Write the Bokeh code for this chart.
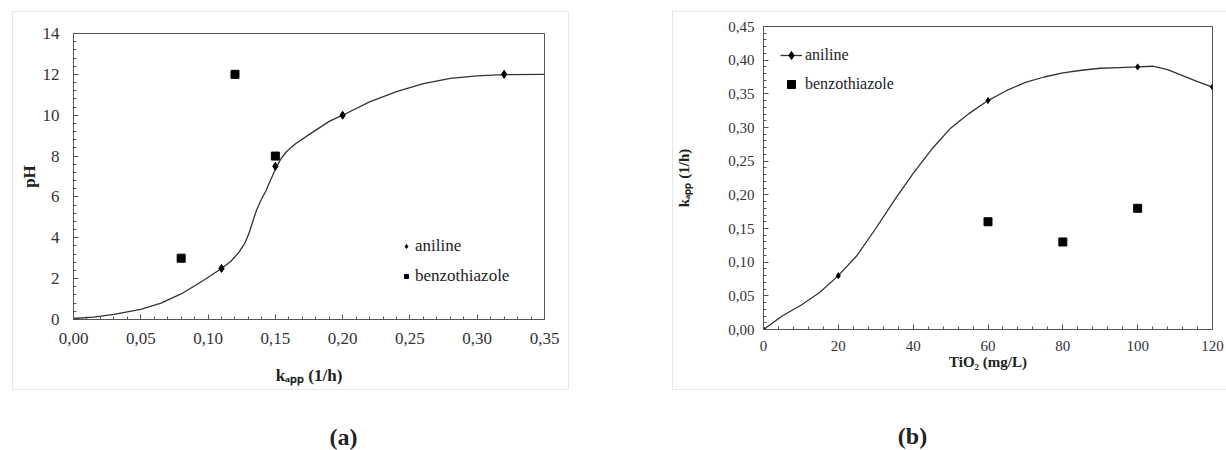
from bokeh.plotting import figure
from bokeh.models import (Range1d, FixedTicker, CustomJSTickFormatter, Label, Legend,
                          LegendItem, Spacer)
from bokeh.layouts import row, column
from bokeh.embed import file_html
from bokeh.resources import INLINE
import numpy as np

# ---------------- data: chart (a) ----------------
a_aniline_kapp = [0.11, 0.15, 0.20, 0.32]
a_aniline_ph = [2.5, 7.5, 10.0, 12.0]
a_benzo_kapp = [0.08, 0.12, 0.15]
a_benzo_ph = [3.0, 12.0, 8.0]
# fitted curve
a_curve_kapp = [0, 0.015, 0.03, 0.05, 0.065, 0.08, 0.095, 0.11, 0.117, 0.123, 0.127, 0.130,
                0.133, 0.136, 0.139, 0.143, 0.146, 0.15, 0.154, 0.158, 0.165, 0.175, 0.19,
                0.20, 0.22, 0.24, 0.26, 0.28, 0.30, 0.32, 0.35]
a_curve_ph = [0.05, 0.12, 0.25, 0.5, 0.8, 1.25, 1.85, 2.5, 2.85, 3.3, 3.7, 4.15,
              4.75, 5.35, 5.8, 6.3, 6.75, 7.35, 7.85, 8.2, 8.6, 9.05, 9.7,
              10.0, 10.65, 11.15, 11.55, 11.8, 11.93, 11.99, 12.0]
a_x_ticks = [0, 0.05, 0.10, 0.15, 0.20, 0.25, 0.30, 0.35]
a_y_ticks = [0, 2, 4, 6, 8, 10, 12, 14]

# ---------------- data: chart (b) ----------------
b_aniline_tio2 = [0, 20, 60, 100, 120]
b_aniline_kapp = [0.0, 0.08, 0.34, 0.39, 0.36]
b_benzo_tio2 = [60, 80, 100]
b_benzo_kapp = [0.16, 0.13, 0.18]
b_curve_tio2 = [0, 5, 10, 15, 20, 25, 30, 35, 40, 45, 50, 55, 60, 65, 70, 75, 80, 85,
                90, 95, 100, 104, 108, 112, 116, 120]
b_curve_kapp = [0.0, 0.02, 0.036, 0.055, 0.08, 0.11, 0.15, 0.192, 0.232, 0.268, 0.299,
                0.321, 0.34, 0.355, 0.367, 0.375, 0.381, 0.385, 0.388, 0.389, 0.39,
                0.391, 0.386, 0.377, 0.368, 0.36]
b_x_ticks = [0, 20, 40, 60, 80, 100, 120]
b_y_ticks = [0, 0.05, 0.10, 0.15, 0.20, 0.25, 0.30, 0.35, 0.40, 0.45]

captions = ["(a)", "(b)"]

FONT = "Liberation Serif"
AX = "#555555"
TXT = "#222222"


def comma2():
    return CustomJSTickFormatter(code="return tick.toFixed(2).replace('.', ',');")


def style_axes(p, size):
    for ax in (p.xaxis[0], p.yaxis[0]):
        ax.axis_line_color = AX
        ax.major_tick_line_color = AX
        ax.minor_tick_line_color = AX
        ax.major_tick_in = 5
        ax.major_tick_out = 0
        ax.minor_tick_in = 3
        ax.minor_tick_out = 0
        ax.major_label_text_font = FONT
        ax.major_label_text_font_size = size
        ax.major_label_text_color = "#333333"
        ax.axis_label_text_font = FONT
        ax.axis_label_text_font_style = "bold"
        ax.axis_label_text_color = TXT
    p.xgrid.visible = False
    p.ygrid.visible = False
    p.outline_line_color = AX
    p.outline_line_width = 1
    p.background_fill_color = "white"
    p.border_fill_color = "white"


# ================= figure (a) =================
pa = figure(width=557, height=379, output_backend="svg", toolbar_location=None, title=None,
            x_range=Range1d(0, 0.35), y_range=Range1d(0, 14), frame_align=False,
            min_border_left=60, min_border_right=26, min_border_top=21, min_border_bottom=72)
pa.styles = {"border": "1px solid #e6e6e6", "box-sizing": "border-box"}
style_axes(pa, "17px")
pa.xaxis[0].ticker = FixedTicker(ticks=a_x_ticks, minor_ticks=list(np.arange(0, 0.3501, 0.01)))
pa.yaxis[0].ticker = FixedTicker(ticks=a_y_ticks, minor_ticks=list(np.arange(0, 14.01, 0.4)))
pa.xaxis[0].formatter = comma2()
pa.xaxis[0].major_label_standoff = 13
pa.yaxis[0].major_label_standoff = 14
pa.xaxis[0].axis_label = "k\u2090\u209a\u209a (1/h)"
pa.xaxis[0].axis_label_text_font_size = "17px"
pa.xaxis[0].axis_label_standoff = 19
pa.yaxis[0].axis_label = "pH"
pa.yaxis[0].axis_label_text_font_size = "17px"
pa.yaxis[0].axis_label_standoff = 1

pa.line(a_curve_kapp, a_curve_ph, line_color="#333333", line_width=1.3)
ra1 = pa.scatter(a_aniline_kapp, a_aniline_ph, marker="diamond", size=8, color="black")
ra2 = pa.scatter(a_benzo_kapp, a_benzo_ph, marker="square", size=8, color="black")
lega = Legend(items=[LegendItem(label="aniline", renderers=[ra1]),
                     LegendItem(label="benzothiazole", renderers=[ra2])],
              location=(328, 32), padding=0, margin=0, spacing=8,
              glyph_width=10, glyph_height=22, label_height=22, label_standoff=4,
              label_text_font=FONT, label_text_font_size="17px", label_text_color=TXT,
              border_line_alpha=0, background_fill_alpha=0)
pa.add_layout(lega)

# ================= figure (b) =================
pb = figure(width=554, height=379, output_backend="svg", toolbar_location=None, title=None,
            x_range=Range1d(0, 120), y_range=Range1d(0, 0.45), frame_align=False,
            min_border_left=90, min_border_right=15, min_border_top=14, min_border_bottom=62)
pb.styles = {"border": "1px solid #e6e6e6", "border-right": "none", "box-sizing": "border-box"}
style_axes(pb, "15px")
pb.xaxis[0].ticker = FixedTicker(ticks=b_x_ticks, minor_ticks=list(np.arange(0, 120.01, 4)))
pb.yaxis[0].ticker = FixedTicker(ticks=b_y_ticks, minor_ticks=list(np.arange(0, 0.4501, 0.01)))
pb.yaxis[0].formatter = comma2()
pb.xaxis[0].major_label_standoff = 11
pb.yaxis[0].major_label_standoff = 9
pb.xaxis[0].axis_label = "TiO\u2082 (mg/L)"
pb.xaxis[0].axis_label_text_font_size = "15px"
pb.xaxis[0].axis_label_standoff = 0
pb.yaxis[0].axis_label = "k\u2090\u209a\u209a (1/h)"
pb.yaxis[0].axis_label_text_font_size = "15px"
pb.yaxis[0].axis_label_standoff = 33

rb_line = pb.line(b_curve_tio2, b_curve_kapp, line_color="#333333", line_width=1.3)
rb1 = pb.scatter(b_aniline_tio2, b_aniline_kapp, marker="diamond", size=6, color="black")
rb2 = pb.scatter(b_benzo_tio2, b_benzo_kapp, marker="square", size=8, color="black")
legb = Legend(items=[LegendItem(label="aniline", renderers=[rb_line, rb1]),
                     LegendItem(label="benzothiazole", renderers=[rb2])],
              location=(17, 235), padding=0, margin=0, spacing=9,
              glyph_width=22, glyph_height=20, label_height=20, label_standoff=3,
              label_text_font=FONT, label_text_font_size="16px", label_text_color=TXT,
              border_line_alpha=0, background_fill_alpha=0)
pb.add_layout(legb)

# ================= captions strip =================
pc = figure(width=1226, height=60, output_backend="svg", toolbar_location=None, title=None,
            x_range=Range1d(0, 1226), y_range=Range1d(60, 0),
            x_axis_type=None, y_axis_type=None, frame_align=False,
            min_border=0, min_border_left=0, min_border_right=0,
            min_border_top=0, min_border_bottom=0)
pc.outline_line_color = None
pc.xgrid.visible = False
pc.ygrid.visible = False
for cap, cx, cy in zip(captions, [343, 912], [46, 45]):
    pc.add_layout(Label(x=cx, y=cy, text=cap, text_font=FONT, text_font_size="24px",
                        text_font_style="bold", text_color=TXT,
                        text_align="center", text_baseline="middle"))

top = row(Spacer(width=12, height=379), pa, Spacer(width=103, height=379), pb)
layout = column(Spacer(width=1226, height=11), top, pc)
open("out.html", "w").write(file_html(layout, INLINE))
